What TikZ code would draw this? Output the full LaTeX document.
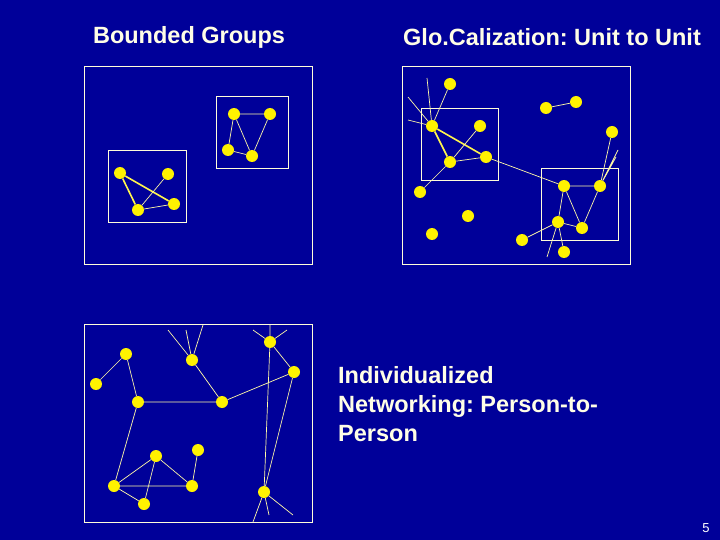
\documentclass[tikz,border=0pt]{standalone}
\usepackage{fontspec}
\setmainfont{Liberation Sans}
\begin{document}
\frenchspacing
\begin{tikzpicture}[x=1pt,y=-1pt,
  dot/.style={circle,fill=yellow,inner sep=0pt,minimum size=12pt},
  ln/.style={draw=yellow!35!white,line width=0.7pt},
  thk/.style={draw=yellow!70!white,line width=1.6pt},
  box/.style={draw=yellow!15!white,line width=0.8pt},
  ttl/.style={text=yellow!10!white,font=\bfseries\fontsize{23.5}{28}\selectfont}]
\fill[fill={rgb,255:red,0;green,0;blue,153}] (0,0) rectangle (720,540);
\useasboundingbox (0,0) rectangle (720,540);
\node[ttl] (t1) at (189,37) {Bounded Groups};
\node[ttl] (t2) at (552,37) {Glo.Calization: Unit to Unit};
\node[ttl,anchor=north west,align=left,font=\bfseries\fontsize{23.5}{29}\selectfont,inner sep=0pt] (t3) at (338,366) {Individualized\\Networking: Person-to-\\Person};
\node[text=white,font=\fontsize{13}{15}\selectfont] (pg) at (706,528) {5};
% top-left
\draw[box] (84,66) rectangle (312,264);
\draw[box] (108,150) rectangle (186,222);
\draw[box] (216,96) rectangle (288,168);
\foreach \n/\x/\y in {a1/120/173,a2/168/174,a3/138/210,a4/174/204,b1/234/114,b2/270/114,b3/228/150,b4/252/156}
  \node[dot] (\n) at (\x,\y) {};
\draw[thk] (a1)--(a3) (a1)--(a4);
\draw[ln] (a2)--(a3) (a3)--(a4) (b1)--(b2) (b1)--(b3) (b1)--(b4) (b3)--(b4) (b2)--(b4);
% top-right
\draw[box] (402,66) rectangle (630,264);
\draw[box] (421,108) rectangle (498,180);
\draw[box] (541,168) rectangle (618,240);
\foreach \n/\x/\y in {c1/450/84,c2/432/126,c3/480/126,c4/450/162,c5/486/157,c6/420/192,c7/468/216,c8/432/234,c9/546/108,c10/576/102,c11/612/132,d1/564/186,d2/600/186,d3/558/222,d4/582/228,d5/522/240,d6/564/252}
  \node[dot] (\n) at (\x,\y) {};
\coordinate (f1) at (427,78); \coordinate (f2) at (408,97); \coordinate (f3) at (408,120);
\coordinate (f4) at (618,150); \coordinate (f5) at (616,157); \coordinate (f6) at (547,257);
\draw[thk] (c2)--(c4) (c2)--(c5);
\draw[ln] (c2)--(c1) (c2)--(f1) (c2)--(f2) (c2)--(f3) (c3)--(c4) (c4)--(c5) (c4)--(c6) (c5)--(d1)
  (c9)--(c10) (c11)--(d2) (d2)--(f4) (d2)--(f5) (d1)--(d2) (d1)--(d3) (d1)--(d4) (d2)--(d4)
  (d3)--(d4) (d3)--(d5) (d3)--(d6) (d3)--(f6);
% bottom
\draw[box] (84,324) rectangle (312,522);
\foreach \n/\x/\y in {e1/126/354,e2/96/384,e3/138/402,e4/192/360,e5/222/402,e6/270/342,e7/294/372,e8/156/456,e9/198/450,e10/114/486,e11/192/486,e12/144/504,e13/264/492}
  \node[dot] (\n) at (\x,\y) {};
\coordinate (g1) at (168,330); \coordinate (g2) at (186,330); \coordinate (g3) at (203,325);
\coordinate (g4) at (270,325); \coordinate (g5) at (253,330); \coordinate (g6) at (287,330);
\coordinate (g7) at (253,522); \coordinate (g8) at (269,515); \coordinate (g9) at (293,515);
\draw[ln] (e1)--(e2) (e1)--(e3) (e3)--(e5) (e4)--(e5) (e5)--(e7) (e6)--(e7) (e3)--(e10)
  (e8)--(e10) (e8)--(e11) (e8)--(e12) (e10)--(e11) (e10)--(e12) (e9)--(e11) (e7)--(e13) (e6)--(e13)
  (e4)--(g1) (e4)--(g2) (e4)--(g3) (e6)--(g4) (e6)--(g5) (e6)--(g6) (e13)--(g7) (e13)--(g8) (e13)--(g9);
\end{tikzpicture}
\end{document}
